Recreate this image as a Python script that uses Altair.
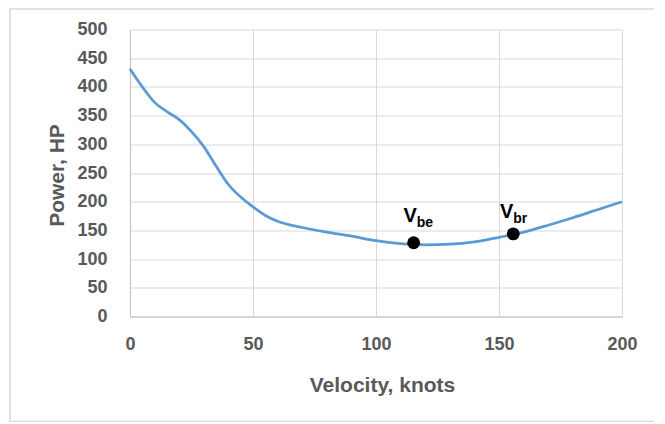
import altair as alt
import pandas as pd

# Curve: velocity (knots) vs power required (HP)
velocity = [0, 5, 10, 15, 20, 25, 30, 35, 40, 45, 50, 55, 60, 70, 80, 90, 100, 110, 120, 130, 140, 150, 160, 170, 180, 190, 200]
power = [431, 400, 373, 357, 343, 322, 296, 262, 230, 208, 191, 176, 166, 155, 147, 140, 132, 127, 125, 126, 130, 138, 147, 159, 172, 186, 200]

# Marked points
point_names = ["be", "br"]
point_v = [115.3, 155.8]
point_p = [128.5, 144.0]

x_ticks = [0, 50, 100, 150, 200]
y_ticks = [0, 50, 100, 150, 200, 250, 300, 350, 400, 450, 500]

curve = pd.DataFrame({"v": velocity, "p": power})
pts = pd.DataFrame({"v": point_v, "p": point_p, "sub": point_names, "main": ["V", "V"]})

FONT = "Liberation Sans"
TXT = "#595959"

xs = alt.Scale(domain=[0, 200], nice=False)
ys = alt.Scale(domain=[0, 500], nice=False)

xax = alt.Axis(values=x_ticks, title="Velocity, knots", grid=True, gridColor="#d9d9d9",
               domainColor="#bfbfbf", ticks=False, tickSize=0, labelPadding=19,
               labelFlush=False, labelOverlap=False,
               labelFont=FONT, labelFontSize=18, labelFontWeight="bold", labelColor=TXT,
               titleFont=FONT, titleFontSize=21, titleFontWeight="bold", titleColor=TXT,
               titleBaseline="alphabetic", titleX=252, titleY=75)
yax = alt.Axis(values=y_ticks, title="Power, HP", grid=True, gridColor="#d9d9d9",
               domainColor="#bfbfbf", ticks=False, tickSize=0, labelPadding=23,
               labelFlush=False, labelOverlap=False,
               labelFont=FONT, labelFontSize=18, labelFontWeight="bold", labelColor=TXT,
               titleFont=FONT, titleFontSize=21, titleFontWeight="bold", titleColor=TXT,
               titleBaseline="alphabetic", titleX=-67, titleY=145.5)

X = alt.X("v:Q", scale=xs, axis=xax)
Y = alt.Y("p:Q", scale=ys, axis=yax)

line = alt.Chart(curve).mark_line(color="#5b9bd5", strokeWidth=2.75, interpolate="monotone").encode(x=X, y=Y)

dots = alt.Chart(pts).mark_point(filled=True, color="black", opacity=1, size=165, shape="circle").encode(x=X, y=Y)

def lbl(name, dxm, dym, dxs, dys):
    d = pts[pts["sub"] == name]
    m = alt.Chart(d).mark_text(font=FONT, fontSize=20, fontWeight="bold", color="black",
                               align="center", baseline="alphabetic", dx=dxm, dy=dym).encode(
        x=X, y=Y, text="main:N")
    s = alt.Chart(d).mark_text(font=FONT, fontSize=14, fontWeight="bold", color="black",
                               align="left", baseline="alphabetic", dx=dxs, dy=dys).encode(
        x=X, y=Y, text="sub:N")
    return m + s

lab_be = lbl("be", -3.5, -21, 3, -16)
lab_br = lbl("br", -6.5, -16, 0, -11)

border = alt.Chart(pd.DataFrame({"k": [0]})).mark_rect(
    fillOpacity=0, stroke="#d9d9d9", strokeWidth=1.5, clip=False
).encode(x=alt.value(-120), x2=alt.value(531), y=alt.value(-20.5), y2=alt.value(392))

chart = alt.layer(border, line, dots, lab_be, lab_br).properties(
    width=492, height=287,
    autosize=alt.AutoSizeParams(type="none"),
    padding={"left": 122, "top": 21.5, "right": 32, "bottom": 105},
    background="white",
).configure_view(stroke=None)

chart.save("out.html", embed_options={"renderer": "svg", "actions": False})
